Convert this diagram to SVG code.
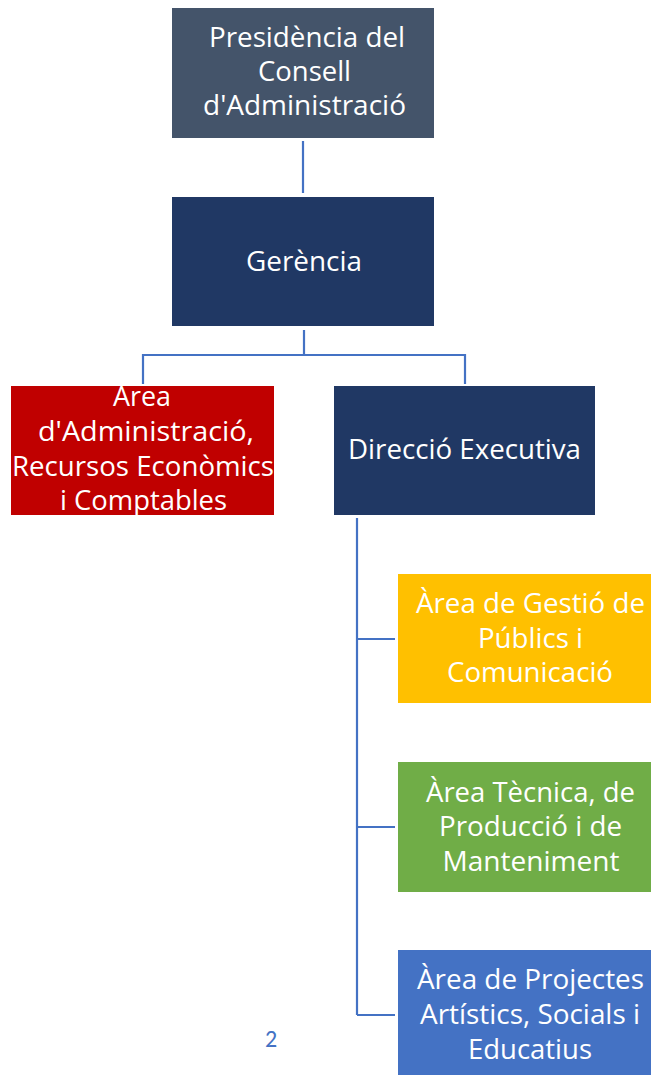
<svg xmlns="http://www.w3.org/2000/svg" width="651" height="1075" viewBox="0 0 651 1075">
<style>
.t{font-family:"Open Sans",Lato,sans-serif;font-size:26.5px;fill:#fff;text-anchor:middle}
.c{fill:none;stroke:#4472C4;stroke-width:2.2}
</style>
<rect width="651" height="1075" fill="#fff"/>
<g id="connectors">
<path class="c" d="M303 141V193"/>
<path class="c" d="M304 330V355M143 355H465M143 354V384M465 354V384"/>
<path class="c" d="M357 518V1015M357 639H395M357 827H395M357 1015H395"/>
</g>
<g id="presidencia">
<rect x="172" y="8" width="262" height="130" fill="#44546A"/>
<text class="t" x="307" y="47" textLength="196" lengthAdjust="spacingAndGlyphs">Presidència del</text>
<text class="t" x="304.5" y="81" textLength="93" lengthAdjust="spacingAndGlyphs">Consell</text>
<text class="t" x="304.5" y="115" textLength="203" lengthAdjust="spacingAndGlyphs">d'Administració</text>
</g>
<g id="gerencia">
<rect x="172" y="197" width="262" height="129" fill="#203864"/>
<text class="t" x="304" y="271" textLength="116" lengthAdjust="spacingAndGlyphs">Gerència</text>
</g>
<g id="area-admin">
<rect x="11" y="386" width="263" height="129" fill="#C00000"/>
<text class="t" x="142" y="406" textLength="58" lengthAdjust="spacingAndGlyphs">Àrea</text>
<text class="t" x="146" y="441" textLength="216" lengthAdjust="spacingAndGlyphs">d'Administració,</text>
<text class="t" x="143" y="476" textLength="262" lengthAdjust="spacingAndGlyphs">Recursos Econòmics</text>
<text class="t" x="143.5" y="510" textLength="167" lengthAdjust="spacingAndGlyphs">i Comptables</text>
</g>
<g id="direccio">
<rect x="334" y="386" width="261" height="129" fill="#203864"/>
<text class="t" x="464.5" y="459" textLength="233" lengthAdjust="spacingAndGlyphs">Direcció Executiva</text>
</g>
<g id="gestio-publics">
<rect x="398" y="574" width="264" height="129" fill="#FFC000"/>
<text class="t" x="530.5" y="613" textLength="229" lengthAdjust="spacingAndGlyphs">Àrea de Gestió de</text>
<text class="t" x="530.5" y="648" textLength="105" lengthAdjust="spacingAndGlyphs">Públics i</text>
<text class="t" x="530" y="682" textLength="166" lengthAdjust="spacingAndGlyphs">Comunicació</text>
</g>
<g id="tecnica">
<rect x="398" y="762" width="264" height="130" fill="#70AD47"/>
<text class="t" x="530.5" y="802" textLength="209" lengthAdjust="spacingAndGlyphs">Àrea Tècnica, de</text>
<text class="t" x="530.5" y="836" textLength="183" lengthAdjust="spacingAndGlyphs">Producció i de</text>
<text class="t" x="531" y="871" textLength="177" lengthAdjust="spacingAndGlyphs">Manteniment</text>
</g>
<g id="projectes">
<rect x="398" y="950" width="264" height="130" fill="#4472C4"/>
<text class="t" x="530.5" y="989" textLength="227" lengthAdjust="spacingAndGlyphs">Àrea de Projectes</text>
<text class="t" x="530" y="1024" textLength="220" lengthAdjust="spacingAndGlyphs">Artístics, Socials i</text>
<text class="t" x="530" y="1059" textLength="124" lengthAdjust="spacingAndGlyphs">Educatius</text>
</g>
<text x="271" y="1047" font-family="Calibri,Carlito,Lato,sans-serif" font-size="24" fill="#4472C4" text-anchor="middle">2</text>
</svg>
